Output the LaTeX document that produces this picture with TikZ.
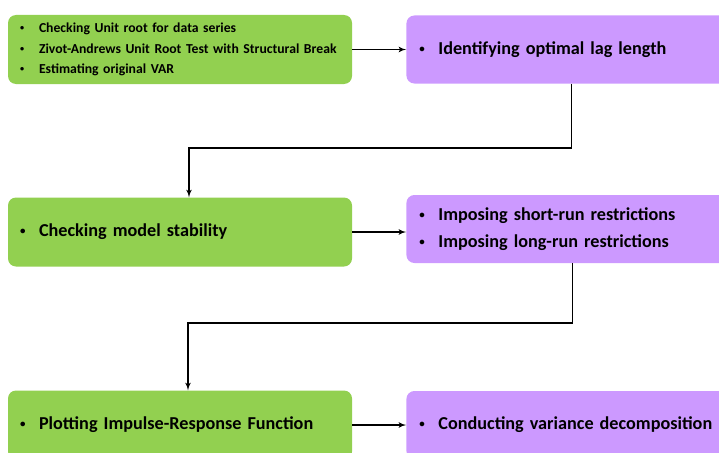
\documentclass[tikz,border=0pt]{standalone}
\usepackage{fontspec}
\setmainfont{Carlito}
\usetikzlibrary{arrows,positioning}
\definecolor{stepgreen}{RGB}{146,208,80}
\definecolor{steppurple}{RGB}{204,153,255}
\newcommand{\gitem}[1]{\makebox[19pt][l]{\raisebox{0.25ex}{\scalebox{0.6}{\textbullet}}}#1}
\tikzset{%
	greenbox/.style  = {fill=stepgreen, rectangle, rounded corners=8pt, minimum height=69pt, text width=320pt, inner xsep=12pt, align=left},
	purplebox/.style = {fill=steppurple, rectangle, rounded corners=8pt, minimum height=68pt, text width=316pt, inner xsep=13pt, align=left},
	bigtext/.style   = {font=\bfseries\fontsize{18.2}{27}\selectfont},
	smalltext/.style = {font=\bfseries\fontsize{13.7}{20.5}\selectfont},
	arrow/.style     = {line width=1.6pt, ->, >=latex'},
}

\begin{document}
\begin{tikzpicture}[x=1pt,y=1pt]
	\useasboundingbox (0,0) rectangle (719,-452);
	\node [greenbox,smalltext] (g1) at (180,-49.5) {\gitem{Checking Unit root for data series}\\ \gitem{Zivot-Andrews Unit Root Test with Structural Break}\\ \gitem{Estimating original VAR}};
	\node [purplebox,bigtext] (p1) [right=54pt of g1] {\gitem{Identifying optimal lag length}};
	\node [greenbox,bigtext] (g2) at (180,-232) {\gitem{Checking model stability}};
	\node [purplebox,bigtext] (p2) [right=54pt of g2,yshift=3pt] {\gitem{Imposing short-run restrictions}\\ \gitem{Imposing long-run restrictions}};
	\node [greenbox,bigtext] (g3) at (180,-425) {\gitem{Plotting Impulse-Response Function}};
	\node [purplebox,bigtext] (p3) [right=54pt of g3] {\gitem{Conducting variance decomposition}};

	\draw[arrow] (g1.east) -- (g1.east -| p1.west);
	\draw[arrow] ([xshift=-6pt]p1.south) -- ++(0,-64) -| ([xshift=9pt]g2.north);
	\draw[arrow] (g2.east) -- (g2.east -| p2.west);
	\draw[arrow] ([xshift=-5pt]p2.south) -- ++(0,-60) -| ([xshift=8pt]g3.north);
	\draw[arrow] (g3.east) -- (g3.east -| p3.west);
\end{tikzpicture}
\end{document}
